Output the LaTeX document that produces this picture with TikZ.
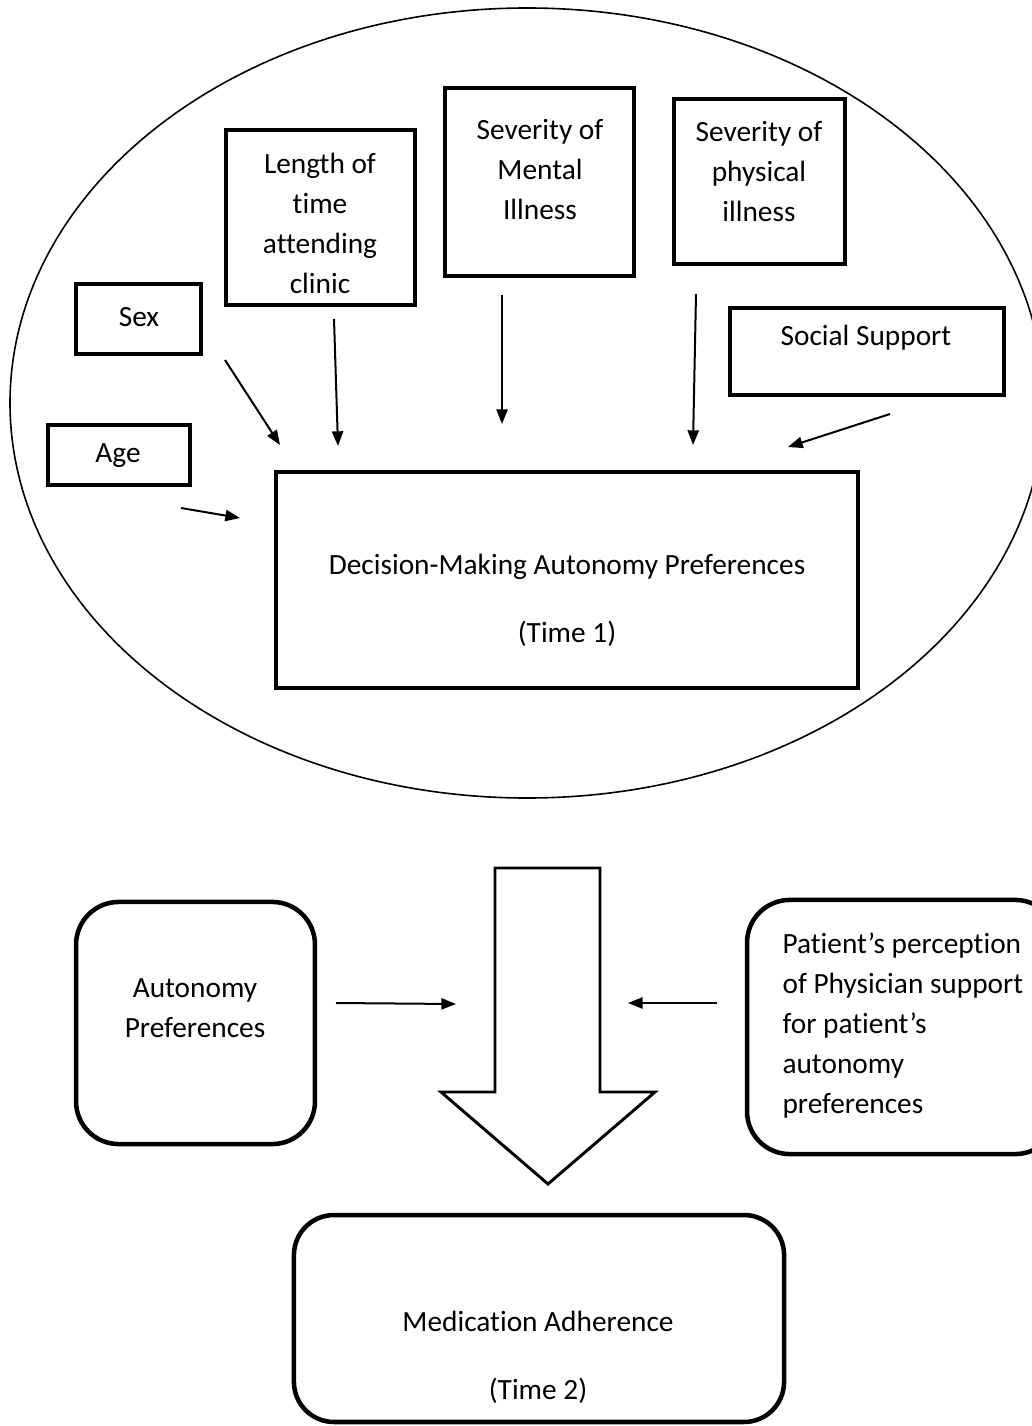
\documentclass[tikz,border=0pt]{standalone}
\usepackage{fontspec}
\setmainfont{Carlito}[Ligatures=NoCommon]
\usetikzlibrary{arrows.meta}

\begin{document}
\begin{tikzpicture}[x=0.375pt,y=-0.375pt,
  factor/.style={draw,line width=1.7pt,inner sep=0pt},
  roundbox/.style={draw,line width=1.7pt,rounded corners=16pt,inner sep=0pt},
  txt/.style={font=\fontsize{11}{15}\selectfont,align=center,inner sep=0pt},
  link/.style={line width=0.75pt,-{Triangle[length=5.5pt,width=4.2pt]}}]
\useasboundingbox (0,0) rectangle (1031,1426);

% time 1 model
\draw[line width=0.6pt] (527,403) ellipse [x radius=517,y radius=395];

\node[factor,minimum width=46.9pt,minimum height=26.3pt] (sex) at (138.5,319) {};
\node[factor,minimum width=70.9pt,minimum height=65.6pt] (length) at (320.5,217.5) {};
\node[factor,minimum width=70.9pt,minimum height=70.5pt] (mental) at (539.5,182) {};
\node[factor,minimum width=64.1pt,minimum height=61.9pt] (physical) at (759.5,181.5) {};
\node[factor,minimum width=102.8pt,minimum height=32.6pt] (social) at (867,351.5) {};
\node[factor,minimum width=53.3pt,minimum height=22.5pt] (age) at (119,455) {};
\node[factor,minimum width=218.3pt,minimum height=81pt] (dmap) at (567,580) {};

\node[txt] at (139,317) {Sex};
\node[txt] at (320,223) {Length of\\time\\attending\\clinic};
\node[txt] at (540,170) {Severity of\\Mental\\Illness};
\node[txt] at (759,172) {Severity of\\physical\\illness};
\node[txt] at (866,338) {Social Support};
\node[txt] at (118,456) {Age};
\node[txt] at (567,600) {Decision-Making Autonomy Preferences\\[10.5pt](Time 1)};

\coordinate (sex-a) at (225,360);    \coordinate (sex-b) at (280,445);
\coordinate (len-a) at (334,319);    \coordinate (len-b) at (338,446);
\coordinate (men-a) at (502,295);    \coordinate (men-b) at (502,424);
\coordinate (phy-a) at (696,294);    \coordinate (phy-b) at (693,445);
\coordinate (soc-a) at (890,414);    \coordinate (soc-b) at (788,447);
\coordinate (age-a) at (181,508);    \coordinate (age-b) at (240,518);

\draw[link] (sex-a) -- (sex-b);
\draw[link] (len-a) -- (len-b);
\draw[link] (men-a) -- (men-b);
\draw[link] (phy-a) -- (phy-b);
\draw[link] (soc-a) -- (soc-b);
\draw[link] (age-a) -- (age-b);

% time 2
\draw[line width=1.1pt] (495,868)--(600,868)--(600,1092)--(655,1092)--(548,1184)
  --(441,1092)--(495,1092)--cycle;

\node[roundbox,minimum width=89.6pt,minimum height=90.8pt] (auto) at (195.5,1023) {};
\node[roundbox,minimum width=116.6pt,minimum height=95.3pt] (patient) at (902.5,1027) {};
\node[roundbox,rounded corners=15pt,minimum width=183.8pt,minimum height=77.6pt] (adhere) at (539,1318.5) {};

\node[txt] at (195,1008) {Autonomy\\Preferences};
\node[txt,align=left,anchor=west] at (782,1026) {Patient’s perception\\of Physician support\\for patient’s\\autonomy\\preferences};
\node[txt] at (538,1357) {Medication Adherence\\[10.5pt](Time 2)};

\coordinate (auto-a) at (336,1003);  \coordinate (auto-b) at (456,1004);
\coordinate (pat-a) at (717,1003);   \coordinate (pat-b) at (628,1003);
\draw[link] (auto-a) -- (auto-b);
\draw[link] (pat-a) -- (pat-b);

\end{tikzpicture}
\end{document}
